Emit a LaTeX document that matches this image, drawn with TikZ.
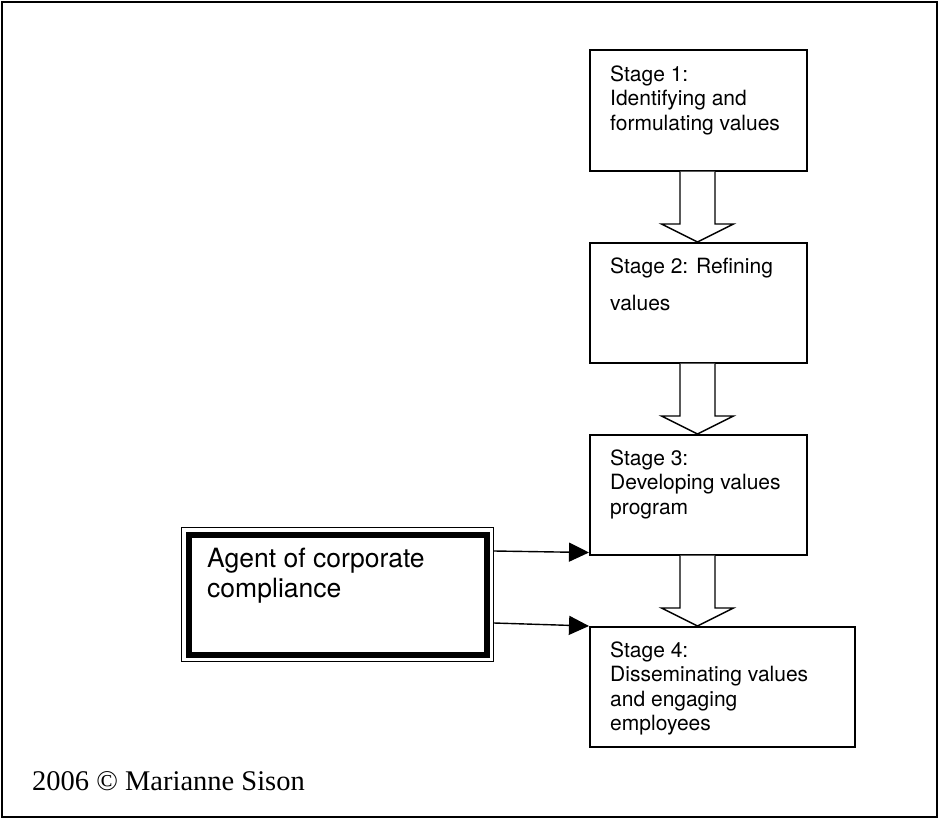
\documentclass[tikz,border=0pt]{standalone}
\usepackage{fontspec}
\newfontfamily\helv{TeX Gyre Heros}
\newfontfamily\timesf{Liberation Serif}
\usetikzlibrary{calc,arrows.meta}

% multi-line text whose reference point is the baseline of its first line
\newcommand\toplines[3]{\parbox[t]{#1}{\raggedright\baselineskip=#2 #3}}

\begin{document}
\begin{tikzpicture}[x=1pt,y=-1pt,
  stagebox/.style={draw,line width=1.5pt,rectangle,inner sep=0pt,anchor=north west},
  stagetext/.style={anchor=base west,inner sep=0pt,font=\helv\fontsize{21}{24.5}\selectfont},
  agentbox/.style={draw,line width=1.2pt,rectangle,inner sep=0pt,anchor=north west},
  blockarrow/.style={draw,line width=1.4pt,fill=white,line join=miter},
  conn/.style={line width=1.4pt,-{Triangle[length=20pt,width=19pt]}},
  ]
  \useasboundingbox (0,0) rectangle (939,819);
  % outer frame
  \draw[line width=2pt] (2,2) rectangle (937,817);

  % stage boxes
  \node[stagebox,minimum width=217pt,minimum height=121pt] (s1) at (589,49) {};
  \node[stagebox,minimum width=217pt,minimum height=120pt] (s2) at (589,242) {};
  \node[stagebox,minimum width=217pt,minimum height=120pt] (s3) at (589,434) {};
  \node[stagebox,minimum width=265pt,minimum height=120pt] (s4) at (589,626) {};

  \node[stagetext] (t1) at ($(s1.north west)+(21,32)$)
    {\toplines{240pt}{24.5pt}{Stage 1:\\ Identifying and\\ formulating values}};
  \node[stagetext] (t2) at ($(s2.north west)+(21,31)$)
    {\toplines{240pt}{37pt}{Stage 2: Refining\\ values}};
  \node[stagetext] (t3) at ($(s3.north west)+(21,31)$)
    {\toplines{240pt}{24.5pt}{Stage 3:\\ Developing values\\ program}};
  \node[stagetext] (t4) at ($(s4.north west)+(21,31)$)
    {\toplines{240pt}{24.5pt}{Stage 4:\\ Disseminating values\\ and engaging\\ employees}};

  % hollow block arrows between consecutive stages
  \foreach \a/\b in {s1/s2,s2/s3,s3/s4}{
    \coordinate (top) at ($(\a.south west)+(108.5,0)$);
    \coordinate (tip) at (top |- \b.north);
    \draw[blockarrow]
      ($(top)+(-17.5,0)$) -- ($(tip)+(-17.5,-18)$) -- ($(tip)+(-36,-18)$)
      -- (tip) -- ($(tip)+(36,-18)$) -- ($(tip)+(17.5,-18)$) -- ($(top)+(17.5,0)$);
  }

  % agent box with thin outer and thick inner border
  \node[agentbox,minimum width=312pt,minimum height=134pt] (agent) at (181,527) {};
  \draw[line width=6pt] ($(agent.north west)+(7.5,7.5)$) rectangle ($(agent.south east)+(-7.5,-7.5)$);
  \node[anchor=base west,inner sep=0pt,font=\helv\fontsize{26.5}{30}\selectfont] (at) at (207,567)
    {\toplines{280pt}{30pt}{Agent of corporate\\ compliance}};

  % connectors from the agent to stages 3 and 4
  \draw[conn] ($(agent.north east)+(0,24)$) -- ($(s3.south west)+(0,-3)$);
  \draw[conn] ($(agent.north east)+(0,96)$) -- (s4.north west);

  % credit line
  \node[anchor=base west,inner sep=0pt,font=\timesf\fontsize{28.5}{34}\selectfont] (credit) at (32,790)
    {2006 \textcopyright{} Marianne Sison};
\end{tikzpicture}
\end{document}
